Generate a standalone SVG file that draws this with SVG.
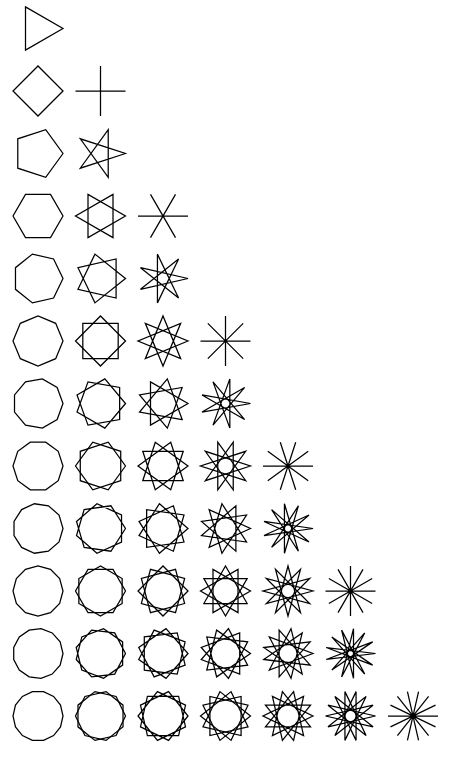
<svg xmlns="http://www.w3.org/2000/svg" width="455" height="758" viewBox="0 0 455 758">
<style>
polygon, path { fill: none; stroke: #000; stroke-width: 1.25; stroke-linejoin: miter; }
</style>
<rect width="455" height="758" fill="#fff"/>
<!-- n=3 -->
<g id="s3-1" transform="translate(38,28.5)"><polygon points="25,0 -12.5,21.65 -12.5,-21.65"/></g>
<!-- n=4 -->
<g id="s4-1" transform="translate(38,91)"><polygon points="25,0 0,25 -25,0 0,-25"/></g>
<g id="s4-2" transform="translate(100.5,91)"><path d="M25,0L-25,0M0,25L0,-25"/></g>
<!-- n=5 -->
<g id="s5-1" transform="translate(38,153.5)"><polygon points="25,0 7.73,23.78 -20.23,14.69 -20.23,-14.69 7.73,-23.78"/></g>
<g id="s5-2" transform="translate(100.5,153.5)"><polygon points="25,0 -20.23,14.69 7.73,-23.78 7.73,23.78 -20.23,-14.69"/></g>
<!-- n=6 -->
<g id="s6-1" transform="translate(38,216)"><polygon points="25,0 12.5,21.65 -12.5,21.65 -25,0 -12.5,-21.65 12.5,-21.65"/></g>
<g id="s6-2" transform="translate(100.5,216)"><polygon points="25,0 -12.5,21.65 -12.5,-21.65"/><polygon points="12.5,21.65 -25,0 12.5,-21.65"/></g>
<g id="s6-3" transform="translate(163,216)"><path d="M25,0L-25,0M12.5,21.65L-12.5,-21.65M-12.5,21.65L12.5,-21.65"/></g>
<!-- n=7 -->
<g id="s7-1" transform="translate(38,278.5)"><polygon points="25,0 15.59,19.55 -5.56,24.37 -22.52,10.85 -22.52,-10.85 -5.56,-24.37 15.59,-19.55"/></g>
<g id="s7-2" transform="translate(100.5,278.5)"><polygon points="25,0 -5.56,24.37 -22.52,-10.85 15.59,-19.55 15.59,19.55 -22.52,10.85 -5.56,-24.37"/></g>
<g id="s7-3" transform="translate(163,278.5)"><polygon points="25,0 -22.52,10.85 15.59,-19.55 -5.56,24.37 -5.56,-24.37 15.59,19.55 -22.52,-10.85"/></g>
<!-- n=8 -->
<g id="s8-1" transform="translate(38,341)"><polygon points="25,0 17.68,17.68 0,25 -17.68,17.68 -25,0 -17.68,-17.68 0,-25 17.68,-17.68"/></g>
<g id="s8-2" transform="translate(100.5,341)"><polygon points="25,0 0,25 -25,0 0,-25"/><polygon points="17.68,17.68 -17.68,17.68 -17.68,-17.68 17.68,-17.68"/></g>
<g id="s8-3" transform="translate(163,341)"><polygon points="25,0 -17.68,17.68 0,-25 17.68,17.68 -25,0 17.68,-17.68 0,25 -17.68,-17.68"/></g>
<g id="s8-4" transform="translate(225.5,341)"><path d="M25,0L-25,0M17.68,17.68L-17.68,-17.68M0,25L0,-25M-17.68,17.68L17.68,-17.68"/></g>
<!-- n=9 -->
<g id="s9-1" transform="translate(38,403.5)"><polygon points="25,0 19.15,16.07 4.34,24.62 -12.5,21.65 -23.49,8.55 -23.49,-8.55 -12.5,-21.65 4.34,-24.62 19.15,-16.07"/></g>
<g id="s9-2" transform="translate(100.5,403.5)"><polygon points="25,0 4.34,24.62 -23.49,8.55 -12.5,-21.65 19.15,-16.07 19.15,16.07 -12.5,21.65 -23.49,-8.55 4.34,-24.62"/></g>
<g id="s9-3" transform="translate(163,403.5)"><polygon points="25,0 -12.5,21.65 -12.5,-21.65"/><polygon points="19.15,16.07 -23.49,8.55 4.34,-24.62"/><polygon points="4.34,24.62 -23.49,-8.55 19.15,-16.07"/></g>
<g id="s9-4" transform="translate(225.5,403.5)"><polygon points="25,0 -23.49,8.55 19.15,-16.07 -12.5,21.65 4.34,-24.62 4.34,24.62 -12.5,-21.65 19.15,16.07 -23.49,-8.55"/></g>
<!-- n=10 -->
<g id="s10-1" transform="translate(38,466)"><polygon points="25,0 20.23,14.69 7.73,23.78 -7.73,23.78 -20.23,14.69 -25,0 -20.23,-14.69 -7.73,-23.78 7.73,-23.78 20.23,-14.69"/></g>
<g id="s10-2" transform="translate(100.5,466)"><polygon points="25,0 7.73,23.78 -20.23,14.69 -20.23,-14.69 7.73,-23.78"/><polygon points="20.23,14.69 -7.73,23.78 -25,0 -7.73,-23.78 20.23,-14.69"/></g>
<g id="s10-3" transform="translate(163,466)"><polygon points="25,0 -7.73,23.78 -20.23,-14.69 20.23,-14.69 7.73,23.78 -25,0 7.73,-23.78 20.23,14.69 -20.23,14.69 -7.73,-23.78"/></g>
<g id="s10-4" transform="translate(225.5,466)"><polygon points="25,0 -20.23,14.69 7.73,-23.78 7.73,23.78 -20.23,-14.69"/><polygon points="20.23,14.69 -25,0 20.23,-14.69 -7.73,23.78 -7.73,-23.78"/></g>
<g id="s10-5" transform="translate(288,466)"><path d="M25,0L-25,0M20.23,14.69L-20.23,-14.69M7.73,23.78L-7.73,-23.78M-7.73,23.78L7.73,-23.78M-20.23,14.69L20.23,-14.69"/></g>
<!-- n=11 -->
<g id="s11-1" transform="translate(38,528.5)"><polygon points="25,0 21.03,13.51 10.39,22.74 -3.56,24.74 -16.37,18.89 -23.99,7.04 -23.99,-7.04 -16.37,-18.89 -3.56,-24.74 10.39,-22.74 21.03,-13.51"/></g>
<g id="s11-2" transform="translate(100.5,528.5)"><polygon points="25,0 10.39,22.74 -16.37,18.89 -23.99,-7.04 -3.56,-24.74 21.03,-13.51 21.03,13.51 -3.56,24.74 -23.99,7.04 -16.37,-18.89 10.39,-22.74"/></g>
<g id="s11-3" transform="translate(163,528.5)"><polygon points="25,0 -3.56,24.74 -23.99,-7.04 10.39,-22.74 21.03,13.51 -16.37,18.89 -16.37,-18.89 21.03,-13.51 10.39,22.74 -23.99,7.04 -3.56,-24.74"/></g>
<g id="s11-4" transform="translate(225.5,528.5)"><polygon points="25,0 -16.37,18.89 -3.56,-24.74 21.03,13.51 -23.99,7.04 10.39,-22.74 10.39,22.74 -23.99,-7.04 21.03,-13.51 -3.56,24.74 -16.37,-18.89"/></g>
<g id="s11-5" transform="translate(288,528.5)"><polygon points="25,0 -23.99,7.04 21.03,-13.51 -16.37,18.89 10.39,-22.74 -3.56,24.74 -3.56,-24.74 10.39,22.74 -16.37,-18.89 21.03,13.51 -23.99,-7.04"/></g>
<!-- n=12 -->
<g id="s12-1" transform="translate(38,591)"><polygon points="25,0 21.65,12.5 12.5,21.65 0,25 -12.5,21.65 -21.65,12.5 -25,0 -21.65,-12.5 -12.5,-21.65 0,-25 12.5,-21.65 21.65,-12.5"/></g>
<g id="s12-2" transform="translate(100.5,591)"><polygon points="25,0 12.5,21.65 -12.5,21.65 -25,0 -12.5,-21.65 12.5,-21.65"/><polygon points="21.65,12.5 0,25 -21.65,12.5 -21.65,-12.5 0,-25 21.65,-12.5"/></g>
<g id="s12-3" transform="translate(163,591)"><polygon points="25,0 0,25 -25,0 0,-25"/><polygon points="21.65,12.5 -12.5,21.65 -21.65,-12.5 12.5,-21.65"/><polygon points="12.5,21.65 -21.65,12.5 -12.5,-21.65 21.65,-12.5"/></g>
<g id="s12-4" transform="translate(225.5,591)"><polygon points="25,0 -12.5,21.65 -12.5,-21.65"/><polygon points="21.65,12.5 -21.65,12.5 0,-25"/><polygon points="12.5,21.65 -25,0 12.5,-21.65"/><polygon points="0,25 -21.65,-12.5 21.65,-12.5"/></g>
<g id="s12-5" transform="translate(288,591)"><polygon points="25,0 -21.65,12.5 12.5,-21.65 0,25 -12.5,-21.65 21.65,12.5 -25,0 21.65,-12.5 -12.5,21.65 0,-25 12.5,21.65 -21.65,-12.5"/></g>
<g id="s12-6" transform="translate(350.5,591)"><path d="M25,0L-25,0M21.65,12.5L-21.65,-12.5M12.5,21.65L-12.5,-21.65M0,25L0,-25M-12.5,21.65L12.5,-21.65M-21.65,12.5L21.65,-12.5"/></g>
<!-- n=13 -->
<g id="s13-1" transform="translate(38,653.5)"><polygon points="25,0 22.14,11.62 14.2,20.57 3.01,24.82 -8.87,23.38 -18.71,16.58 -24.27,5.98 -24.27,-5.98 -18.71,-16.58 -8.87,-23.38 3.01,-24.82 14.2,-20.57 22.14,-11.62"/></g>
<g id="s13-2" transform="translate(100.5,653.5)"><polygon points="25,0 14.2,20.57 -8.87,23.38 -24.27,5.98 -18.71,-16.58 3.01,-24.82 22.14,-11.62 22.14,11.62 3.01,24.82 -18.71,16.58 -24.27,-5.98 -8.87,-23.38 14.2,-20.57"/></g>
<g id="s13-3" transform="translate(163,653.5)"><polygon points="25,0 3.01,24.82 -24.27,5.98 -8.87,-23.38 22.14,-11.62 14.2,20.57 -18.71,16.58 -18.71,-16.58 14.2,-20.57 22.14,11.62 -8.87,23.38 -24.27,-5.98 3.01,-24.82"/></g>
<g id="s13-4" transform="translate(225.5,653.5)"><polygon points="25,0 -8.87,23.38 -18.71,-16.58 22.14,-11.62 3.01,24.82 -24.27,-5.98 14.2,-20.57 14.2,20.57 -24.27,5.98 3.01,-24.82 22.14,11.62 -18.71,16.58 -8.87,-23.38"/></g>
<g id="s13-5" transform="translate(288,653.5)"><polygon points="25,0 -18.71,16.58 3.01,-24.82 14.2,20.57 -24.27,-5.98 22.14,-11.62 -8.87,23.38 -8.87,-23.38 22.14,11.62 -24.27,5.98 14.2,-20.57 3.01,24.82 -18.71,-16.58"/></g>
<g id="s13-6" transform="translate(350.5,653.5)"><polygon points="25,0 -24.27,5.98 22.14,-11.62 -18.71,16.58 14.2,-20.57 -8.87,23.38 3.01,-24.82 3.01,24.82 -8.87,-23.38 14.2,20.57 -18.71,-16.58 22.14,11.62 -24.27,-5.98"/></g>
<!-- n=14 -->
<g id="s14-1" transform="translate(38,716)"><polygon points="25,0 22.52,10.85 15.59,19.55 5.56,24.37 -5.56,24.37 -15.59,19.55 -22.52,10.85 -25,0 -22.52,-10.85 -15.59,-19.55 -5.56,-24.37 5.56,-24.37 15.59,-19.55 22.52,-10.85"/></g>
<g id="s14-2" transform="translate(100.5,716)"><polygon points="25,0 15.59,19.55 -5.56,24.37 -22.52,10.85 -22.52,-10.85 -5.56,-24.37 15.59,-19.55"/><polygon points="22.52,10.85 5.56,24.37 -15.59,19.55 -25,0 -15.59,-19.55 5.56,-24.37 22.52,-10.85"/></g>
<g id="s14-3" transform="translate(163,716)"><polygon points="25,0 5.56,24.37 -22.52,10.85 -15.59,-19.55 15.59,-19.55 22.52,10.85 -5.56,24.37 -25,0 -5.56,-24.37 22.52,-10.85 15.59,19.55 -15.59,19.55 -22.52,-10.85 5.56,-24.37"/></g>
<g id="s14-4" transform="translate(225.5,716)"><polygon points="25,0 -5.56,24.37 -22.52,-10.85 15.59,-19.55 15.59,19.55 -22.52,10.85 -5.56,-24.37"/><polygon points="22.52,10.85 -15.59,19.55 -15.59,-19.55 22.52,-10.85 5.56,24.37 -25,0 5.56,-24.37"/></g>
<g id="s14-5" transform="translate(288,716)"><polygon points="25,0 -15.59,19.55 -5.56,-24.37 22.52,10.85 -22.52,10.85 5.56,-24.37 15.59,19.55 -25,0 15.59,-19.55 5.56,24.37 -22.52,-10.85 22.52,-10.85 -5.56,24.37 -15.59,-19.55"/></g>
<g id="s14-6" transform="translate(350.5,716)"><polygon points="25,0 -22.52,10.85 15.59,-19.55 -5.56,24.37 -5.56,-24.37 15.59,19.55 -22.52,-10.85"/><polygon points="22.52,10.85 -25,0 22.52,-10.85 -15.59,19.55 5.56,-24.37 5.56,24.37 -15.59,-19.55"/></g>
<g id="s14-7" transform="translate(413,716)"><path d="M25,0L-25,0M22.52,10.85L-22.52,-10.85M15.59,19.55L-15.59,-19.55M5.56,24.37L-5.56,-24.37M-5.56,24.37L5.56,-24.37M-15.59,19.55L15.59,-19.55M-22.52,10.85L22.52,-10.85"/></g>
</svg>
